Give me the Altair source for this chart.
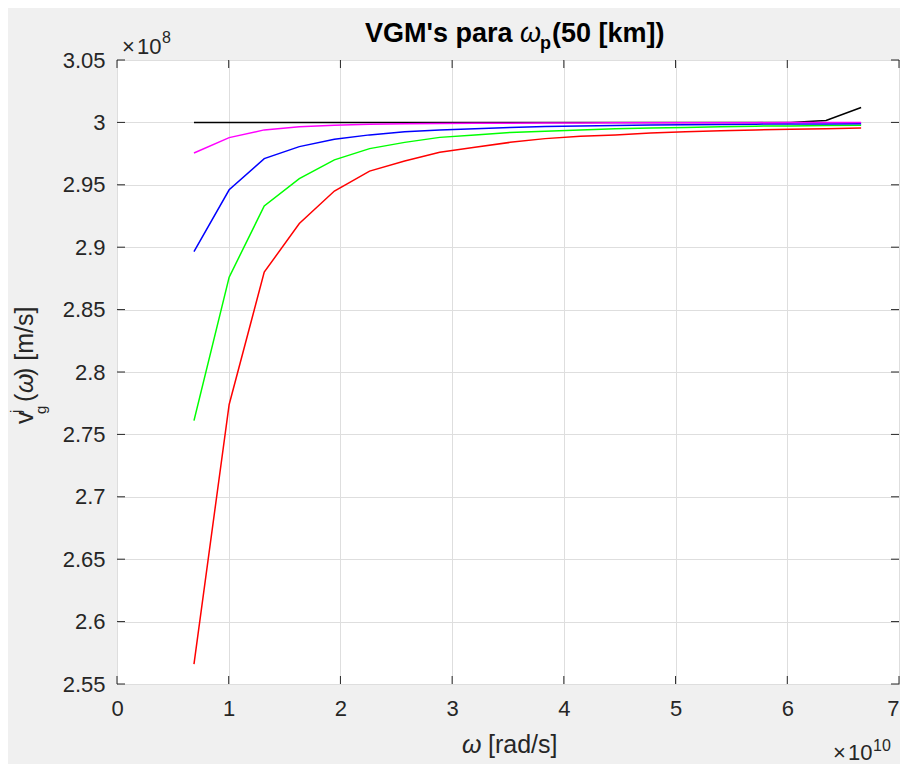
import altair as alt
import pandas as pd

# ---------------- data ----------------
omega = [0.689, 1.004, 1.318, 1.632, 1.946, 2.261, 2.575, 2.889, 3.204, 3.518,
         3.832, 4.147, 4.461, 4.775, 5.089, 5.404, 5.718, 6.032, 6.347, 6.661]  # x 1e10 rad/s

vg_black = [3.0, 3.0, 3.0, 3.0, 3.0, 3.0, 3.0, 3.0, 3.0, 3.0,
            3.0, 3.0, 3.0, 3.0, 3.0, 3.0, 3.0, 3.0, 3.0015, 3.0120]
vg_red = [2.566, 2.774, 2.880, 2.919, 2.945, 2.961, 2.969, 2.976, 2.980, 2.984,
          2.987, 2.989, 2.990, 2.9915, 2.9925, 2.9933, 2.994, 2.9945, 2.995, 2.9955]
vg_green = [2.761, 2.876, 2.933, 2.955, 2.970, 2.979, 2.984, 2.988, 2.990, 2.992,
            2.993, 2.994, 2.995, 2.9955, 2.996, 2.9965, 2.997, 2.9972, 2.9975, 2.9977]
vg_blue = [2.8965, 2.946, 2.971, 2.9806, 2.9865, 2.990, 2.9925, 2.994, 2.995, 2.996,
           2.9967, 2.9972, 2.9976, 2.998, 2.9982, 2.9984, 2.9986, 2.9987, 2.9988, 2.9989]
vg_magenta = [2.9755, 2.9878, 2.994, 2.9965, 2.9978, 2.9985, 2.9989, 2.9991, 2.9993, 2.9994,
              2.9995, 2.9996, 2.9997, 2.9997, 2.9998, 2.9998, 2.9998, 2.9999, 2.9999, 2.9999]

series_names = ["k", "r", "g", "b", "m"]
series_colors = ["#000000", "#ff0000", "#00ff00", "#0000ff", "#ff00ff"]

x_ticks = [0, 1, 2, 3, 4, 5, 6, 7]
y_ticks = [2.55, 2.6, 2.65, 2.7, 2.75, 2.8, 2.85, 2.9, 2.95, 3.0, 3.05]

# ---------------- build tables ----------------
rows = []
for name, vals in zip(series_names, [vg_black, vg_red, vg_green, vg_blue, vg_magenta]):
    for i, (xv, yv) in enumerate(zip(omega, vals)):
        rows.append({"w": xv, "v": yv, "s": name, "o": i})
df = pd.DataFrame(rows)
xt = pd.DataFrame({"w": x_ticks})
yt = pd.DataFrame({"v": y_ticks})
one = pd.DataFrame({"a": [0]})

W, H = 782, 624
FONT = "Liberation Sans"
AX = "#262626"
TL = 8

xs = alt.Scale(domain=[0, 7], nice=False, zero=False)
ys = alt.Scale(domain=[2.55, 3.05], nice=False, zero=False)

x_axis = alt.Axis(values=x_ticks, format="d", grid=True, ticks=False, domain=False, title=None,
                  labelPadding=14, labelFontSize=22, labelFont=FONT, labelColor=AX,
                  gridColor="#dedede", labelFlush=False,
                  labelAlign={"condition": {"test": "datum.value >= 7", "value": "right"},
                              "value": "center"})
y_axis = alt.Axis(values=y_ticks, format=".3~g", grid=True, ticks=False, domain=False, title=None,
                  labelPadding=12, labelFontSize=22, labelFont=FONT, labelColor=AX,
                  gridColor="#dedede", labelFlush=False)

X = alt.X("w:Q", scale=xs, axis=x_axis)
Y = alt.Y("v:Q", scale=ys, axis=y_axis)

lines = alt.Chart(df).mark_line(strokeWidth=1.5).encode(
    x=X, y=Y,
    color=alt.Color("s:N", scale=alt.Scale(domain=series_names, range=series_colors), legend=None),
    detail="s:N",
    order="o:Q",
)

tick_b = alt.Chart(xt).mark_rule(color=AX, strokeWidth=1).encode(
    x=X, y=alt.value(H), y2=alt.value(H - TL))
tick_t = alt.Chart(xt).mark_rule(color=AX, strokeWidth=1).encode(
    x=X, y=alt.value(0), y2=alt.value(TL))
tick_l = alt.Chart(yt).mark_rule(color=AX, strokeWidth=1).encode(
    y=Y, x=alt.value(0), x2=alt.value(TL))
tick_r = alt.Chart(yt).mark_rule(color=AX, strokeWidth=1).encode(
    y=Y, x=alt.value(W), x2=alt.value(W - TL))


def txt(text, x, y, size, weight="normal", style="normal", angle=0, align="left", color="#000000"):
    return alt.Chart(one).mark_text(
        text=text, fontSize=size, fontWeight=weight, fontStyle=style, font=FONT,
        align=align, baseline="alphabetic", angle=angle, color=color
    ).encode(x=alt.value(x), y=alt.value(y))


texts = [
    # title
    txt("VGM's para", 248, -18, 27, weight="bold"),
    txt("ω", 403, -18, 27, style="italic"),
    txt("p", 423, -11, 18, weight="bold"),
    txt("(50 [km])", 435, -18, 27, weight="bold"),
    # exponent labels
    txt("×", 5, -6, 22, color=AX),
    txt("10", 20, -6, 22, color=AX),
    txt("8", 45, -17, 16, color=AX),
    txt("×", 716, 700, 22, color=AX),
    txt("10", 731, 700, 22, color=AX),
    txt("10", 756, 691, 16, color=AX),
    # x axis title
    txt("ω", 345, 693, 25, style="italic", color=AX),
    txt("[rad/s]", 371, 693, 25, color=AX),
    # y axis title (rotated)
    txt("v", -84, 364, 25, angle=270, color=AX),
    txt("j", -96, 353, 15, angle=270, color=AX),
    txt("g", -71, 354, 15, angle=270, color=AX),
    txt("(", -84, 342, 25, angle=270, color=AX),
    txt("ω", -84, 333, 25, style="italic", angle=270, color=AX),
    txt(") [m/s]", -84, 316, 25, angle=270, color=AX),
]

chart = alt.layer(lines, tick_b, tick_t, tick_l, tick_r, *texts).properties(
    width=W, height=H,
    background="#f0f0f0",
    padding={"left": 109, "top": 52, "right": 1, "bottom": 80},
    autosize=alt.AutoSizeParams(type="none"),
).configure_view(
    fill="white", stroke=AX, strokeWidth=1
)

chart.save("out.html", embed_options={"renderer": "svg", "actions": False})
